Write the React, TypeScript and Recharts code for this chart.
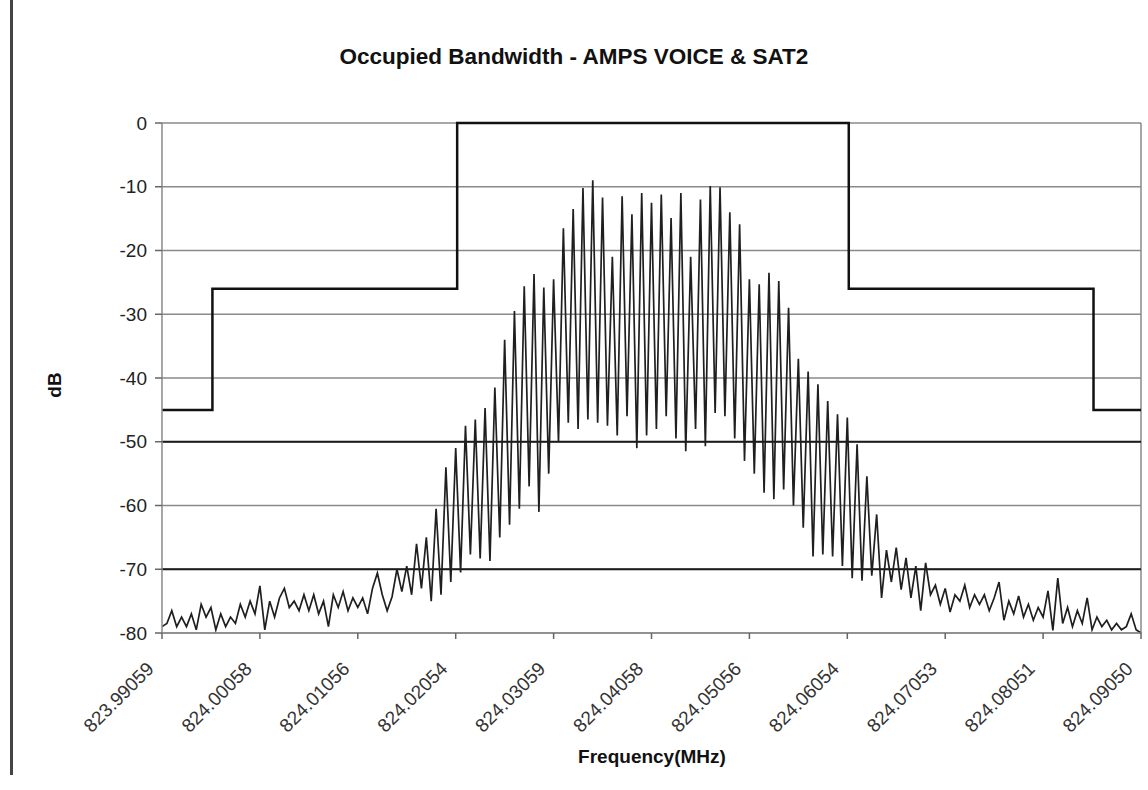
import React from "react";
import {
  LineChart,
  Line,
  XAxis,
  YAxis,
  CartesianGrid,
  ReferenceLine,
} from "recharts";

// tick labels on the frequency axis (one every 20 samples)
const freqLabels = [
  "823.99059",
  "824.00058",
  "824.01056",
  "824.02054",
  "824.03059",
  "824.04058",
  "824.05056",
  "824.06054",
  "824.07053",
  "824.08051",
  "824.09050",
];

const dbTicks = [0, -10, -20, -30, -40, -50, -60, -70, -80];

// measured spectrum, dB, 201 samples across the span
const spectrumDb = [
  -79, -78.5, -76.5, -79, -77.5, -79, -77, -79.5, -75.5, -77.5,
  -76, -79.5, -77, -79, -77.5, -78.5, -75.5, -77.5, -75, -77,
  -72.6, -79.5, -75, -77.5, -74.5, -73, -76, -75, -76.5, -74,
  -76.5, -74, -77, -75, -79, -74, -76, -73.5, -76.5, -74.5,
  -76, -74.5, -77, -73, -70.6, -74, -76.5, -74.3, -70, -73.5,
  -69.5, -74, -66, -73, -65, -75, -60.5, -74, -54, -72,
  -51, -70.5, -47.5, -67.7, -46.5, -68.3, -44.7, -68.7, -41.5, -65,
  -34, -63, -29.5, -60.5, -25.6, -57, -23.7, -61, -25.8, -55,
  -24.5, -50, -16.5, -47, -13.5, -48, -10.2, -46.5, -9, -47,
  -11.7, -47.5, -21, -49, -11.5, -46, -14.3, -51, -11, -49,
  -12.5, -48, -11.2, -46, -14.9, -49.5, -11, -51.5, -21, -48,
  -12, -50.7, -9.9, -45.5, -10.1, -46, -14, -49.5, -15.9, -53,
  -24.5, -55, -25.3, -58, -23.5, -59, -24.8, -57.5, -29, -60,
  -37, -63.5, -39, -68, -41, -67.7, -43.6, -68, -45.7, -69.5,
  -46.2, -71.4, -50.4, -71.8, -55.4, -71, -61.4, -74.5, -67, -72,
  -66.6, -73.2, -68.2, -74.5, -69.5, -76.5, -69, -74, -72.5, -75.5,
  -73, -76.7, -74, -75, -72.5, -76, -74, -75.5, -74, -76.5,
  -74.5, -72, -78, -75, -77, -74.2, -77.5, -75.5, -78, -76,
  -77.5, -73.4, -79.6, -71.4, -78.5, -76, -79, -76.5, -78.5, -74.5,
  -79.5, -77.5, -79, -78, -79.5, -78.5, -79.5, -79, -77, -79.5,
  -80,
];

// emission mask (sample position, dB)
const maskIdx = [0, 10.3, 10.3, 60.3, 60.3, 140.3, 140.3, 190.3, 190.3, 200];
const maskDb = [-45, -45, -26, -26, 0, 0, -26, -26, -45, -45];

const limitLines = [-50, -70];

const spectrum = spectrumDb.map((db, i) => ({ idx: i, db }));
const mask = maskIdx.map((idx, i) => ({ idx, db: maskDb[i] }));
const xTicks = freqLabels.map((_, i) => i * 20);

const FONT = "'Liberation Sans', Arial, sans-serif";

function FreqTick(props: any) {
  const { x, y, payload } = props;
  const label = freqLabels[Math.round(payload.value / 20)];
  return (
    <text
      transform={`translate(${x - 7},${y + 29}) rotate(-45)`}
      textAnchor="end"
      fontSize={19}
      fontFamily={FONT}
      fill="#333"
    >
      {label}
    </text>
  );
}

export default function App() {
  return (
    <div
      style={{
        position: "absolute",
        left: 0,
        top: 0,
        width: 1148,
        height: 790,
        background: "#fff",
        fontFamily: FONT,
      }}
    >
      <div
        style={{
          position: "absolute",
          left: 10,
          top: 0,
          width: 3,
          height: 775,
          background: "#444",
        }}
      />
      <div
        style={{
          position: "absolute",
          left: 0,
          top: 44,
          width: 1148,
          textAlign: "center",
          fontSize: 22.5,
          fontWeight: "bold",
          color: "#111",
        }}
      >
        Occupied Bandwidth - AMPS VOICE &amp; SAT2
      </div>
      <div
        style={{
          position: "absolute",
          left: 55,
          top: 385,
          transform: "translate(-50%, -50%) rotate(-90deg)",
          fontSize: 19,
          fontWeight: "bold",
          color: "#111",
        }}
      >
        dB
      </div>
      <div
        style={{
          position: "absolute",
          left: 652,
          top: 757,
          transform: "translate(-50%, -50%)",
          fontSize: 19,
          fontWeight: "bold",
          color: "#111",
          whiteSpace: "nowrap",
        }}
      >
        Frequency(MHz)
      </div>
      <LineChart
        width={1148}
        height={790}
        data={spectrum}
        margin={{ top: 123, right: 7, bottom: 57, left: 102 }}
      >
        <CartesianGrid
          horizontal={true}
          vertical={false}
          stroke="#8a8a8a"
          strokeWidth={1.5}
        />
        <XAxis
          dataKey="idx"
          type="number"
          domain={[0, 200]}
          ticks={xTicks}
          interval={0}
          height={100}
          tick={<FreqTick />}
          tickSize={6}
          tickMargin={2}
          axisLine={{ stroke: "#8a8a8a", strokeWidth: 1.5 }}
          tickLine={{ stroke: "#666", strokeWidth: 1.5 }}
        />
        <YAxis
          type="number"
          domain={[-80, 0]}
          ticks={dbTicks}
          interval={0}
          width={60}
          tickSize={7}
          tickMargin={8}
          tick={{ fill: "#222", fontSize: 19, fontFamily: FONT }}
          axisLine={{ stroke: "#8a8a8a", strokeWidth: 1.5 }}
          tickLine={{ stroke: "#666", strokeWidth: 1.5 }}
        />
        <ReferenceLine x={200} stroke="#8a8a8a" strokeWidth={1.5} />
        {limitLines.map((v) => (
          <ReferenceLine key={v} y={v} stroke="#1a1a1a" strokeWidth={2.2} />
        ))}
        <Line
          dataKey="db"
          type="linear"
          stroke="#1f1f1f"
          strokeWidth={1.7}
          dot={false}
          isAnimationActive={false}
        />
        <Line
          data={mask}
          dataKey="db"
          type="linear"
          stroke="#111"
          strokeWidth={2.5}
          dot={false}
          isAnimationActive={false}
        />
      </LineChart>
    </div>
  );
}
